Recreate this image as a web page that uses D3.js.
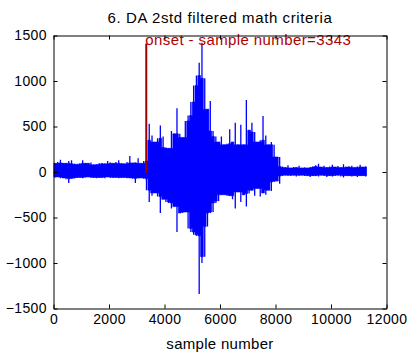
<!DOCTYPE html>
<html>
<head>
<meta charset="utf-8">
<script src="https://cdn.jsdelivr.net/npm/d3@7"></script>
<style>
  html, body { margin: 0; padding: 0; background: #fff; }
  svg { display: block; font-family: "Liberation Sans", Arial, Helvetica, sans-serif; }
</style>
</head>
<body>
<svg id="chart" width="410" height="359"></svg>
<script>
// Signal envelope per 100-sample bin: peak above and below zero in each bin.
const binSamples = 100;
const upperEnvelope = [
  95, 110, 135, 100, 95, 120, 130, 90, 85, 95,
  130, 100, 95, 105, 80, 85, 95, 100, 90, 120,
  105, 95, 110, 130, 95, 90, 110, 175, 100, 105,
  150, 95, 120,
  350, 530, 400, 330, 370, 510, 390, 270, 260, 450,
  420, 700, 420, 380, 560, 620, 770, 950, 1060, 1200,
  1420, 1030, 690, 780, 450, 390, 330, 390, 300, 310,
  470, 330, 540, 300, 520, 300, 790, 460, 540, 440,
  330, 350, 615, 400, 300, 330, 300, 165, 165, 60,
  50, 75, 45, 55, 50, 70, 45, 50, 45, 55,
  60, 75, 90, 55, 70, 50, 60, 80, 55, 65,
  50, 85, 55, 60, 70, 50, 60, 80, 55, 60
];
const lowerEnvelope = [
  -60, -55, -70, -65, -80, -120, -75, -70, -65, -60,
  -70, -60, -55, -65, -60, -70, -65, -60, -70, -55,
  -65, -60, -60, -70, -65, -60, -70, -65, -75, -120,
  -70, -65, -75,
  -200, -330, -260, -230, -270, -450, -300, -330, -340, -400,
  -380, -660, -450, -450, -440, -620, -660, -690, -700, -1340,
  -1000, -930, -600, -450, -440, -340, -320, -250, -250, -260,
  -260, -300, -400, -220, -330, -250, -380, -235, -200, -260,
  -180, -270, -230, -250, -200, -210, -110, -100, -130, -45,
  -35, -40, -45, -35, -50, -40, -35, -45, -40, -55,
  -45, -40, -50, -35, -45, -55, -40, -50, -45, -35,
  -50, -60, -40, -45, -50, -40, -55, -45, -40, -50
];

const xTickValues = [0, 2000, 4000, 6000, 8000, 10000, 12000];
const yTickValues = [-1500, -1000, -500, 0, 500, 1000, 1500];

const onsetSample = 3343;
const onsetMarkerTop = 1400;

const chartTitle = "6. DA 2std filtered math criteria";
const xAxisLabel = "sample number";
const onsetLabel = "onset - sample number=" + onsetSample;

// Layout
const plot = { left: 53.5, right: 386.5, top: 35.5, bottom: 308.5 };
const svg = d3.select("#chart");

const x = d3.scaleLinear().domain([0, 12000]).range([plot.left, plot.right]);
const y = d3.scaleLinear().domain([-1500, 1500]).range([plot.bottom, plot.top]);

svg.append("defs").append("clipPath").attr("id", "plot-clip")
  .append("rect")
  .attr("x", plot.left).attr("y", plot.top)
  .attr("width", plot.right - plot.left).attr("height", plot.bottom - plot.top);

const bins = upperEnvelope.map((hi, i) => ({
  sample: i * binSamples,
  hi: hi,
  lo: lowerEnvelope[i]
}));

// Dense body of the trace: the extent shared with the neighbouring bins,
// so that isolated peaks stand out as thin strokes above it.
const body = bins.map((b, i) => {
  const nb = bins.slice(Math.max(0, i - 1), Math.min(bins.length, i + 2));
  return {
    sample: b.sample,
    hi: d3.min(nb, d => d.hi),
    lo: d3.max(nb, d => d.lo)
  };
});
body.push({ sample: bins.length * binSamples - 20, hi: body[body.length - 1].hi, lo: body[body.length - 1].lo });

const signal = svg.append("g").attr("clip-path", "url(#plot-clip)");

signal.append("path")
  .datum(body)
  .attr("fill", "#0000ff")
  .attr("stroke", "#0000ff")
  .attr("stroke-width", 0.6)
  .attr("d", d3.area()
    .curve(d3.curveStepAfter)
    .x(d => x(d.sample))
    .y0(d => y(d.lo))
    .y1(d => y(d.hi)));

// Full excursion of every bin as a vertical stroke
signal.selectAll("line.peak")
  .data(bins)
  .join("line")
  .attr("class", "peak")
  .attr("x1", d => x(d.sample + binSamples / 2))
  .attr("x2", d => x(d.sample + binSamples / 2))
  .attr("y1", d => y(d.lo))
  .attr("y2", d => y(d.hi))
  .attr("stroke", "#0000ff")
  .attr("stroke-width", 1.3);

// Onset marker and its label
svg.append("line")
  .attr("x1", x(onsetSample)).attr("x2", x(onsetSample))
  .attr("y1", y(0)).attr("y2", y(onsetMarkerTop))
  .attr("stroke", "#a00000")
  .attr("stroke-width", 2)
  .attr("stroke-linecap", "square");

svg.append("text")
  .attr("x", x(onsetSample) - 1)
  .attr("y", y(onsetMarkerTop) + 0.5)
  .attr("fill", "#b00000")
  .attr("font-size", "15px")
  .attr("letter-spacing", "0.4px")
  .text(onsetLabel);

// Axes: inward ticks on all four sides, labels on bottom and left
const tickFont = "14px";
const tickLen = -4;

const gBottom = svg.append("g")
  .attr("transform", `translate(0,${plot.bottom})`)
  .call(d3.axisBottom(x).tickValues(xTickValues).tickFormat(d3.format("d"))
    .tickSizeInner(tickLen).tickSizeOuter(0).tickPadding(6));

const gTop = svg.append("g")
  .attr("transform", `translate(0,${plot.top})`)
  .call(d3.axisTop(x).tickValues(xTickValues).tickFormat("")
    .tickSizeInner(tickLen).tickSizeOuter(0));

const gLeft = svg.append("g")
  .attr("transform", `translate(${plot.left},0)`)
  .call(d3.axisLeft(y).tickValues(yTickValues).tickFormat(d3.format("d"))
    .tickSizeInner(tickLen).tickSizeOuter(0).tickPadding(6.5));

const gRight = svg.append("g")
  .attr("transform", `translate(${plot.right},0)`)
  .call(d3.axisRight(y).tickValues(yTickValues).tickFormat("")
    .tickSizeInner(tickLen).tickSizeOuter(0));

[gBottom, gTop, gLeft, gRight].forEach(g => {
  g.selectAll(".domain").attr("stroke", "#000").attr("stroke-width", 1);
  g.selectAll(".tick line").attr("stroke", "#000");
  g.selectAll("text")
    .attr("fill", "#000")
    .style("font-family", "'Liberation Sans', Arial, sans-serif")
    .style("font-size", tickFont)
    .attr("letter-spacing", "0.4px");
});

// Title and axis label
svg.append("text")
  .attr("x", (plot.left + plot.right) / 2)
  .attr("y", 22.5)
  .attr("text-anchor", "middle")
  .attr("font-size", "15px")
  .attr("letter-spacing", "0.6px")
  .attr("fill", "#000")
  .text(chartTitle);

svg.append("text")
  .attr("x", (plot.left + plot.right) / 2)
  .attr("y", 349)
  .attr("text-anchor", "middle")
  .attr("font-size", "15px")
  .attr("letter-spacing", "0.3px")
  .attr("fill", "#000")
  .text(xAxisLabel);
</script>
</body>
</html>
